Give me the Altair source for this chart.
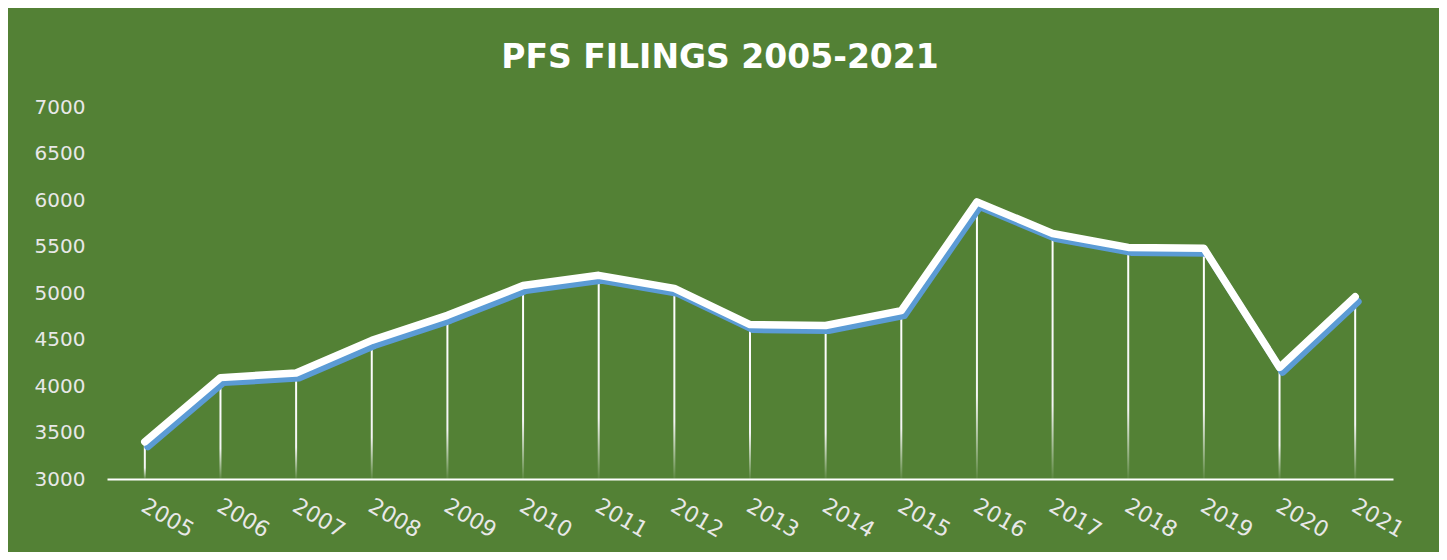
import altair as alt
import pandas as pd

years = [str(y) for y in range(2005, 2022)]
filings = [3400, 4090, 4140, 4490, 4760, 5080, 5190, 5050, 4660, 4650,
           4810, 5980, 5640, 5490, 5480, 4200, 4960]
y_ticks = [3000, 3500, 4000, 4500, 5000, 5500, 6000, 6500, 7000]
title_text = ["PFS FILINGS 2005-2021"]

df = pd.DataFrame({"year": years, "filings": filings})

GREEN = "#538135"
BLUE = "#5B9BD5"
LABEL = "#e8e8e8"

x_enc = alt.X(
    "year:O",
    scale=alt.Scale(type="point", padding=0.5),
    axis=alt.Axis(
        title=None, labelAngle=30, labelAlign="left", labelBaseline="top",
        labelPadding=16, labelOffset=3, labelFont="DejaVu Sans",
        labelFontSize=22, labelColor=LABEL, ticks=False,
        domainColor="#ffffff", domainWidth=2, labelOverlap=False, grid=False,
    ),
)
y_enc = alt.Y(
    "filings:Q",
    scale=alt.Scale(domain=[3000, 7000], nice=False, zero=False),
    axis=alt.Axis(
        title=None, values=y_ticks, format="d", grid=False, domain=False,
        ticks=False, labelAlign="left", labelPadding=73,
        labelFont="DejaVu Sans", labelFontSize=20, labelColor=LABEL,
        labelBaseline="middle",
    ),
)

base = alt.Chart(df)

drops = base.mark_bar(
    width=2,
    fill=alt.Gradient(
        gradient="linear",
        stops=[
            alt.GradientStop(color="#ffffff", offset=0),
            alt.GradientStop(color="#f4f4f4", offset=0.7),
            alt.GradientStop(color="rgba(255,255,255,0.05)", offset=1),
        ],
        x1=0, x2=0, y1=0, y2=1,
    ),
).encode(x=x_enc, y=y_enc, y2=alt.datum(3000))

shadow = base.mark_line(
    color=BLUE, strokeWidth=7, xOffset=3, yOffset=5,
    strokeCap="round", strokeJoin="round",
).encode(x=x_enc, y=y_enc)

line = base.mark_line(
    color="#ffffff", strokeWidth=7.5, strokeCap="round", strokeJoin="round",
).encode(x=x_enc, y=y_enc)

title = alt.Chart(pd.DataFrame({"t": title_text})).mark_text(
    font="DejaVu Sans", fontSize=33, fontWeight="bold", color="#ffffff",
    align="center", baseline="alphabetic",
).encode(text="t:N", x=alt.value(613), y=alt.value(-39))

chart = alt.layer(drops, shadow, line, title).properties(
    width=1286,
    height=372,
    background=GREEN,
    padding={"left": 99, "top": 99, "right": 46, "bottom": 73},
    autosize=alt.AutoSizeParams(type="none"),
).configure_view(stroke=None)

chart.save("out.html", embed_options={"renderer": "svg", "actions": False})
